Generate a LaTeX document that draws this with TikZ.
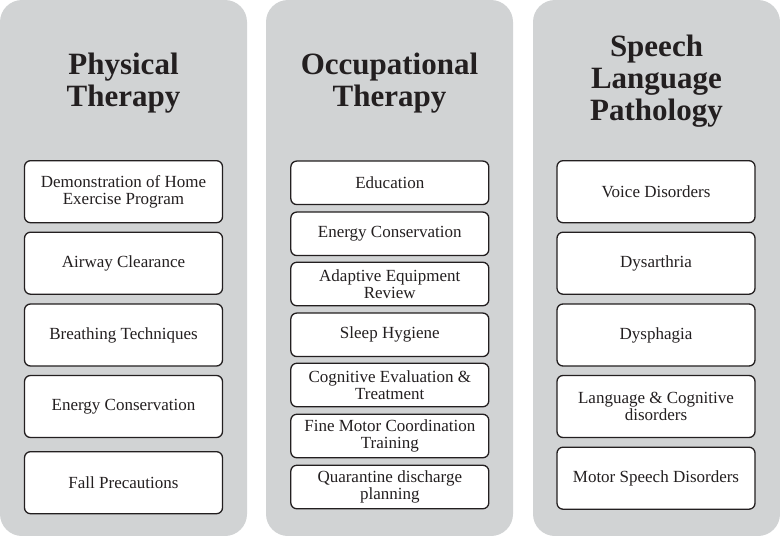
\documentclass[tikz,border=0pt]{standalone}
\usepackage{fontspec}
\setmainfont{Liberation Serif}
\definecolor{colfill}{HTML}{D1D3D4}
\definecolor{ink}{HTML}{231F20}
\tikzset{
  column/.style={fill=colfill, draw=none, rounded corners=22pt, inner sep=0pt, minimum width=247pt, minimum height=536pt},
  coltitle/.style={align=center, inner sep=0pt, text=ink, anchor=base, font=\bfseries\fontsize{31}{32}\selectfont},
  itembox/.style={draw=ink, fill=white, line width=1.3pt, rounded corners=6pt, inner sep=0pt, minimum width=198pt, align=center, text=ink, font=\fontsize{17}{17.5}\selectfont},
  tallbox/.style={itembox, minimum height=62pt},
  shortbox/.style={itembox, minimum height=43.5pt}
}
\begin{document}
\begin{tikzpicture}[x=1pt,y=-1pt]
\useasboundingbox (0,0) rectangle (780,536);
% columns
\node[column] (c1) at (123.5,268) {};
\node[column] (c2) at (389.5,268) {};
\node[column] (c3) at (656.5,268) {};
% titles (base anchor = baseline of last line)
\node[coltitle] (t1) at (123.5,106) {Physical\\Therapy};
\node[coltitle] (t2) at (389.5,106) {Occupational\\Therapy};
\node[coltitle] (t3) at (656.5,120) {Speech\\Language\\Pathology};
% column 1
\node[tallbox] (p1) at (123.5,191.7) {\fontsize{17}{19}\selectfont Demonstration of Home\\Exercise Program};
\node[tallbox] (p2) at (123.5,263.2) {Airway Clearance};
\node[tallbox] (p3) at (123.5,335) {Breathing Techniques};
\node[tallbox] (p4) at (123.5,406.5) {Energy Conservation};
\node[tallbox] (p5) at (123.5,482.7) {Fall Precautions};
% column 2
\node[shortbox] (o1) at (389.8,182.8) {Education};
\node[shortbox] (o2) at (389.8,233.8) {Energy Conservation};
\node[shortbox] (o3) at (389.8,284) {Adaptive Equipment\\Review};
\node[shortbox] (o4) at (389.8,334.8) {Sleep Hygiene};
\node[shortbox] (o5) at (389.8,385) {Cognitive Evaluation \&\\Treatment};
\node[shortbox] (o6) at (389.8,436) {Fine Motor Coordination\\Training};
\node[shortbox] (o7) at (389.8,487) {Quarantine discharge\\planning};
% column 3
\node[tallbox] (s1) at (656,191.7) {Voice Disorders};
\node[tallbox] (s2) at (656,263.2) {Dysarthria};
\node[tallbox] (s3) at (656,335) {Dysphagia};
\node[tallbox] (s4) at (656,406.5) {Language \& Cognitive\\disorders};
\node[tallbox] (s5) at (656,478.2) {Motor Speech Disorders};
\end{tikzpicture}
\end{document}
